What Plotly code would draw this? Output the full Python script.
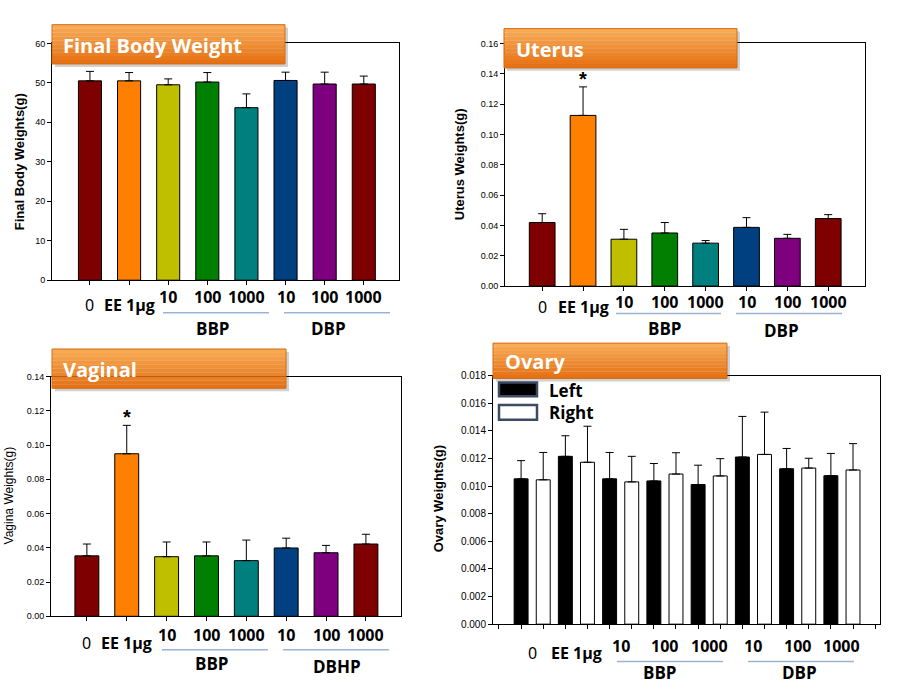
import plotly.graph_objects as go

W, H = 917, 697

# ---------------- data ----------------
groups = ["0", "EE 1μg", "BBP 10", "BBP 100", "BBP 1000", "DBP 10", "DBP 100", "DBP 1000"]
groups_vag = ["0", "EE 1μg", "BBP 10", "BBP 100", "BBP 1000", "DBHP 10", "DBHP 100", "DBHP 1000"]
dose_labels = ["0", "EE 1μg", "10", "100", "1000", "10", "100", "1000"]
bar_colors = ["#7F0000", "#FF8000", "#BFBF00", "#007F00", "#007F7F", "#003F80", "#7F007F", "#7F0000"]

body_mean = [50.5, 50.5, 49.5, 50.2, 43.7, 50.6, 49.7, 49.7]
body_top = [52.9, 52.6, 51.0, 52.6, 47.2, 52.7, 52.7, 51.7]

uterus_mean = [0.0419, 0.1125, 0.0309, 0.0350, 0.0283, 0.0387, 0.0315, 0.0445]
uterus_top = [0.0477, 0.1313, 0.0374, 0.0419, 0.0300, 0.0451, 0.0341, 0.0471]

vagina_mean = [0.0353, 0.0949, 0.0348, 0.0353, 0.0325, 0.0399, 0.0371, 0.0422]
vagina_top = [0.0422, 0.1115, 0.0434, 0.0434, 0.0445, 0.0456, 0.0414, 0.0479]

ovary_left = [0.01052, 0.01215, 0.01052, 0.01037, 0.01011, 0.01210, 0.01125, 0.01075]
ovary_left_top = [0.01184, 0.01364, 0.01243, 0.01163, 0.01151, 0.01504, 0.01272, 0.01236]
ovary_right = [0.01045, 0.01172, 0.01030, 0.01087, 0.01073, 0.01229, 0.01130, 0.01116]
ovary_right_top = [0.01243, 0.01433, 0.01215, 0.01241, 0.01198, 0.01535, 0.01201, 0.01307]

ovary_left_cats = [g + " L" for g in groups]
ovary_right_cats = [g + " R" for g in groups]
ovary_cats = [" "] + [c for pair in zip(ovary_left_cats, ovary_right_cats) for c in pair] + ["  "]


def X(px):
    return px / W


def Y(py):
    return 1 - py / H


fig = go.Figure()

AX_FONT = dict(family="Liberation Sans, Arial, sans-serif", size=9, color="black")
LBL_FONT = "Open Sans, Noto Sans, sans-serif"


def err_bar(mean, top):
    return dict(type="data", symmetric=False,
                array=[t - m for t, m in zip(top, mean)],
                arrayminus=[0] * len(mean),
                color="black", thickness=1, width=4)


panels = [
    dict(n="", cats=groups, mean=body_mean, top=body_top, w=0.59),
    dict(n="2", cats=groups, mean=uterus_mean, top=uterus_top, w=0.63),
    dict(n="3", cats=groups_vag, mean=vagina_mean, top=vagina_top, w=0.60),
]
for p in panels:
    fig.add_trace(go.Bar(
        x=p["cats"], y=p["mean"], width=p["w"],
        marker=dict(color=bar_colors, line=dict(color="black", width=1)),
        error_y=err_bar(p["mean"], p["top"]),
        xaxis="x" + p["n"], yaxis="y" + p["n"], showlegend=False))

fig.add_trace(go.Bar(
    x=ovary_left_cats, y=ovary_left, width=0.63, name="Left",
    marker=dict(color="black", line=dict(color="black", width=1)),
    error_y=err_bar(ovary_left, ovary_left_top),
    xaxis="x4", yaxis="y4", showlegend=False))
fig.add_trace(go.Bar(
    x=ovary_right_cats, y=ovary_right, width=0.63, name="Right",
    marker=dict(color="white", line=dict(color="black", width=1)),
    error_y=err_bar(ovary_right, ovary_right_top),
    xaxis="x4", yaxis="y4", showlegend=False))


def xax(domain, rng, cats, anchor):
    return dict(domain=domain, range=rng, type="category", categoryorder="array",
                categoryarray=cats, showline=True, linecolor="black", linewidth=1,
                mirror=True, ticks="outside", ticklen=4, tickcolor="black",
                showticklabels=False, showgrid=False, zeroline=False, anchor=anchor)


def yax(domain, rng, dtick, fmt, anchor, size=9):
    f = dict(AX_FONT)
    f["size"] = size
    return dict(domain=domain, range=rng, dtick=dtick, tick0=0, tickformat=fmt,
                showline=True, linecolor="black", linewidth=1, mirror=True,
                ticks="outside", ticklen=4, tickcolor="black", tickfont=f,
                showgrid=False, zeroline=False, anchor=anchor)


fig.update_layout(
    width=W, height=H, margin=dict(l=0, r=0, t=0, b=0),
    paper_bgcolor="white", plot_bgcolor="white", barmode="overlay",
    xaxis=xax([X(52), X(399)], [-0.97, 7.9], groups, "y"),
    yaxis=yax([Y(279), Y(38)], [0, 60], 10, "d", "x"),
    xaxis2=xax([X(505), X(865)], [-0.91, 7.9], groups, "y2"),
    yaxis2=yax([Y(285), Y(38)], [0, 0.16], 0.02, ".2f", "x2"),
    xaxis3=xax([X(51), X(401)], [-0.9, 7.88], groups_vag, "y3"),
    yaxis3=yax([Y(621), Y(377)], [0, 0.14], 0.02, ".2f", "x3"),
    xaxis4=xax([X(493), X(880)], [-0.27, 17.22], ovary_cats, "y4"),
    yaxis4=yax([Y(629), Y(376)], [0, 0.018], 0.002, ".3f", "x4", size=10),
)

shapes = []
annos = []


def title_box(x0, y0, x1, y1, text, tx):
    # shadow
    shapes.append(dict(type="rect", xref="paper", yref="paper", x0=X(x0 + 3), x1=X(x1 + 3),
                       y0=Y(y1 + 3), y1=Y(y0 + 3), fillcolor="rgba(0,0,0,0.18)",
                       line=dict(width=0), layer="above"))
    top = (250, 170, 84)
    bot = (230, 114, 20)
    n = 10
    for i in range(n):
        t = i / (n - 1)
        c = tuple(int(top[k] + (bot[k] - top[k]) * t) for k in range(3))
        ya = y0 + (y1 - y0) * i / n
        yb = y0 + (y1 - y0) * (i + 1) / n
        shapes.append(dict(type="rect", xref="paper", yref="paper", x0=X(x0), x1=X(x1),
                           y0=Y(yb), y1=Y(ya), fillcolor="rgb(%d,%d,%d)" % c,
                           line=dict(width=0), layer="above"))
    shapes.append(dict(type="rect", xref="paper", yref="paper", x0=X(x0), x1=X(x1),
                       y0=Y(y1), y1=Y(y0), fillcolor="rgba(0,0,0,0)",
                       line=dict(color="#D26C14", width=1), layer="above"))
    annos.append(dict(text="<b>%s</b>" % text, xref="paper", yref="paper", x=X(tx),
                      y=Y((y0 + y1) / 2 + 1), xanchor="left", yanchor="middle", showarrow=False,
                      font=dict(family=LBL_FONT, size=20, color="white")))


title_box(52, 19, 285, 59, "Final Body Weight", 61)
title_box(504, 23, 737, 63, "Uterus", 514)
title_box(52, 349, 286, 389, "Vaginal", 61)
title_box(493, 343, 727, 379, "Ovary", 503)


def ytitle(text, x, y, bold=True, size=13):
    t = "<b>%s</b>" % text if bold else text
    annos.append(dict(text=t, xref="paper", yref="paper", x=X(x), y=Y(y), textangle=-90,
                      showarrow=False, xanchor="center", yanchor="middle",
                      font=dict(family="Liberation Sans, Arial, sans-serif", size=size, color="black")))


ytitle("Final Body Weights(g)", 19, 159)
ytitle("Uterus Weights(g)", 459, 161)
ytitle("Vagina Weights(g)", 9, 498, bold=False, size=12)
ytitle("Ovary Weights(g)", 438, 502)


def xlabels(xref, xs, y_num, y_ee):
    for i, (xv, lab) in enumerate(zip(xs, dose_labels)):
        if i == 0:
            txt, size, yy = lab, 16, y_ee
            fam = "Noto Sans, sans-serif"
        elif i == 1:
            txt, size, yy = "<b>%s</b>" % lab, 16, y_ee
            fam = LBL_FONT
        else:
            txt, size, yy = "<b>%s</b>" % lab, 16, y_num
            fam = LBL_FONT
        annos.append(dict(text=txt, xref=xref, yref="paper", x=xv, y=Y(yy), showarrow=False,
                          xanchor="center", yanchor="middle",
                          font=dict(family=fam, size=size, color="black")))


def group_lines(segs, y, names):
    for (a, b), (name, cx, cy) in zip(segs, names):
        shapes.append(dict(type="line", xref="paper", yref="paper", x0=X(a), x1=X(b),
                           y0=Y(y), y1=Y(y), line=dict(color="#9BB3D4", width=1.5)))
        annos.append(dict(text="<b>%s</b>" % name, xref="paper", yref="paper", x=X(cx), y=Y(cy),
                          showarrow=False, xanchor="center", yanchor="middle",
                          font=dict(family=LBL_FONT, size=17, color="black")))


xlabels("x", groups, 296, 304)
group_lines([(163, 269), (284, 390)], 312, [("BBP", 213, 328), ("DBP", 328, 328)])
xlabels("x2", groups, 301, 306)
group_lines([(616, 721), (736, 842)], 313, [("BBP", 665, 328), ("DBP", 781, 330)])
xlabels("x3", groups_vag, 640, 648)
group_lines([(162, 268), (283, 389)], 655, [("BBP", 212, 669), ("DBHP", 337, 672)])
pair_centers = [ovary_cats.index(c) + 0.5 for c in ovary_left_cats]
xlabels("x4", pair_centers, 651, 658)
group_lines([(617, 723), (748, 854)], 667, [("BBP", 660, 678), ("DBP", 799, 678)])

# significance stars
for xr, yr, cats, top in [("x2", "y2", groups, uterus_top), ("x3", "y3", groups_vag, vagina_top)]:
    annos.append(dict(text="<b>*</b>", xref=xr, yref=yr, x=cats[1], y=top[1], showarrow=False,
                      xanchor="center", yanchor="bottom", yshift=-5,
                      font=dict(family="Liberation Sans, Arial, sans-serif", size=20, color="black")))

# legend for ovary panel
for (y0, y1), fill, name, ty in [((383, 397), "black", "Left", 391), ((406, 421), "white", "Right", 414)]:
    shapes.append(dict(type="rect", xref="paper", yref="paper", x0=X(499), x1=X(537),
                       y0=Y(y1), y1=Y(y0), fillcolor=fill,
                       line=dict(color="#3C4A63", width=2.5), layer="above"))
    annos.append(dict(text="<b>%s</b>" % name, xref="paper", yref="paper", x=X(547), y=Y(ty),
                      showarrow=False, xanchor="left", yanchor="middle",
                      font=dict(family=LBL_FONT, size=17, color="black")))

fig.update_layout(shapes=shapes, annotations=annos)
fig.write_html("out.html", config={"displayModeBar": False},
               post_script="document.body.style.margin='0';document.body.style.overflow='hidden';")
